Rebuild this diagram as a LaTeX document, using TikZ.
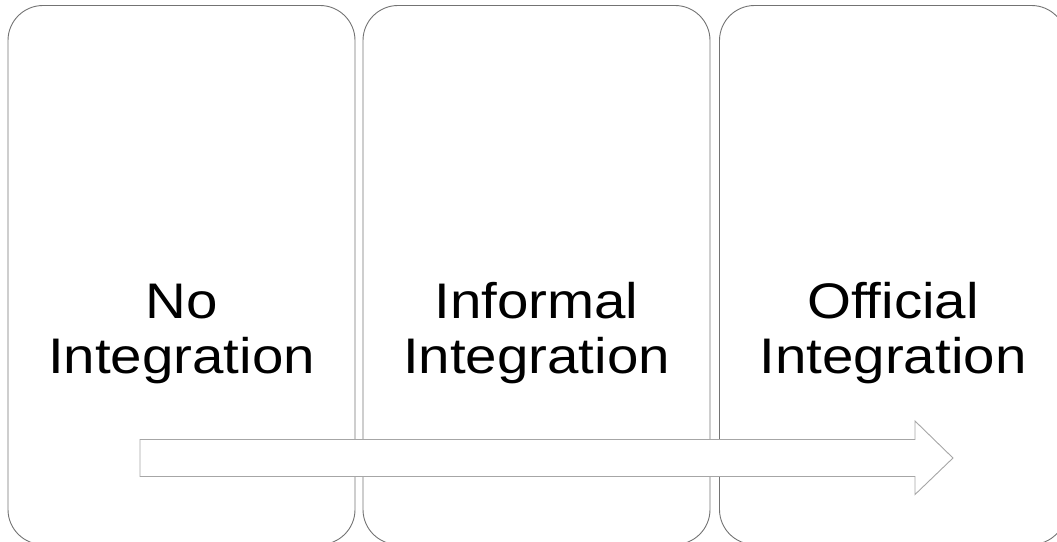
\documentclass[tikz,border=0pt]{standalone}
\usepackage{fontspec}
\setmainfont{Liberation Sans}
\begin{document}
\begin{tikzpicture}[x=1pt,y=-1pt,
  stage/.style={draw=black!55,line width=0.9pt,rounded corners=35pt,
    minimum width=347pt,minimum height=539pt,inner sep=0pt},
  lbl/.style={anchor=base,inner sep=0pt,xscale=1.13,
    font=\fontsize{50pt}{55pt}\selectfont,text=black},
  flow/.style={draw=black!35,fill=white,line width=0.9pt}]
\useasboundingbox (0,0) rectangle (1057,541);
% three stage panels
\node[stage] (s1) at (181.5,275) {};
\node[stage] (s2) at (536.5,275) {};
\node[stage] (s3) at (893,275) {};
% panel captions, set slightly wide
\node[lbl] (s1a) at (181.5,318) {No};
\node[lbl] (s1b) at (181.5,373) {Integration};
\node[lbl] (s2a) at (536.5,318) {Informal};
\node[lbl] (s2b) at (536.5,373) {Integration};
\node[lbl] (s3a) at (893,318) {Official};
\node[lbl] (s3b) at (893,373) {Integration};
% progression arrow
\draw[flow] (140,439.5) -- (915,439.5) -- (915,421) -- (953,458)
  -- (915,494.5) -- (915,476.5) -- (140,476.5) -- cycle;
\end{tikzpicture}
\end{document}
